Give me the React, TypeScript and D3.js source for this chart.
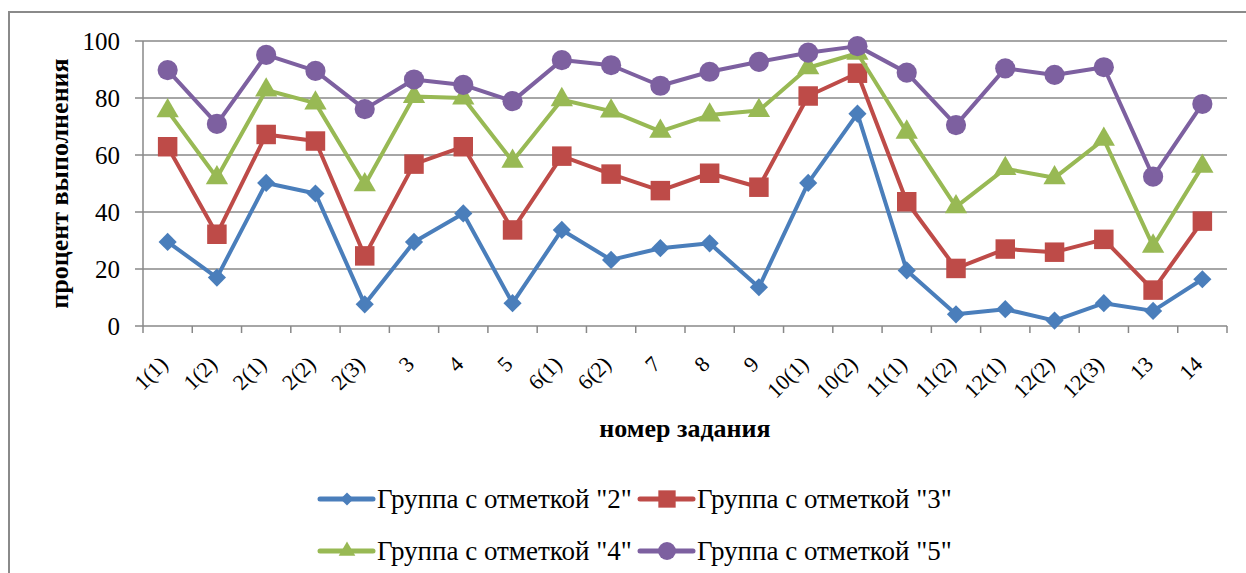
import React, { useEffect, useRef } from "react";
import * as d3 from "d3";

const categories = ["1(1)", "1(2)", "2(1)", "2(2)", "2(3)", "3", "4", "5", "6(1)", "6(2)", "7", "8", "9", "10(1)", "10(2)", "11(1)", "11(2)", "12(1)", "12(2)", "12(3)", "13", "14"];
const group2 = [29.5, 17, 50.2, 46.5, 7.6, 29.5, 39.5, 8, 33.7, 23.2, 27.3, 29, 13.6, 50.2, 74.5, 19.5, 4.1, 5.9, 1.9, 8, 5.3, 16.4];
const group3 = [62.9, 32.2, 67.2, 64.9, 24.6, 56.8, 62.9, 33.7, 59.6, 53.3, 47.5, 53.6, 48.7, 80.7, 88.7, 43.6, 20.2, 27, 25.9, 30.4, 12.6, 36.8];
const group4 = [75.5, 52, 82.8, 78.2, 49.5, 80.5, 80, 57.8, 79.4, 75.4, 68.3, 74, 75.6, 90.6, 95.7, 68, 41.8, 55.2, 52, 65.5, 28, 56];
const group5 = [89.8, 70.9, 95.1, 89.5, 76.1, 86.5, 84.6, 78.9, 93.3, 91.5, 84.3, 89.2, 92.7, 95.9, 98.2, 88.9, 70.5, 90.4, 88.1, 90.8, 52.4, 77.9];
const yTicks = [0, 20, 40, 60, 80, 100];
const seriesNames = ['Группа с отметкой "2"', 'Группа с отметкой "3"', 'Группа с отметкой "4"', 'Группа с отметкой "5"'];

const colors = ["#4a7ebb", "#be4b48", "#98b954", "#7d60a0"];
const symbols = [d3.symbolSquare, d3.symbolSquare, d3.symbolTriangle, d3.symbolCircle];
const rotations = [45, 0, 0, 0];
const symSizes = [165, 380, 215, 320];
const legSizes = [85, 300, 120, 250];

export default function App() {
  const ref = useRef<SVGSVGElement>(null);
  useEffect(() => {
    const svg = d3.select(ref.current);
    svg.selectAll("*").remove();
    const W = 1246, H = 573;
    const left = 143, right = 1227, top = 41, bottom = 326;
    const font = "'Liberation Serif', 'Times New Roman', 'DejaVu Serif', serif";

    svg.append("rect").attr("x", 9).attr("y", 12).attr("width", W + 20).attr("height", H + 20)
      .attr("fill", "white").attr("stroke", "#8a8a8a").attr("stroke-width", 2);

    const x = d3.scaleBand().domain(categories).range([left, right]);
    const y = d3.scaleLinear().domain([0, 100]).range([bottom, top]);

    svg.append("g").selectAll("line").data(yTicks).join("line")
      .attr("x1", left - 8).attr("x2", right).attr("y1", d => y(d)).attr("y2", d => y(d))
      .attr("stroke", "#888").attr("stroke-width", 1.5);
    svg.append("line").attr("x1", left).attr("x2", left).attr("y1", top).attr("y2", bottom)
      .attr("stroke", "#888").attr("stroke-width", 1.5);
    const tickPos = categories.map(c => x(c)!).concat([right]);
    svg.append("g").selectAll("line").data(tickPos).join("line")
      .attr("x1", d => d).attr("x2", d => d).attr("y1", bottom).attr("y2", bottom + 7)
      .attr("stroke", "#888").attr("stroke-width", 1.5);

    svg.append("g").selectAll("text").data(yTicks).join("text")
      .attr("x", left - 23).attr("y", d => y(d)).attr("dy", "0.35em")
      .attr("text-anchor", "end").style("font-family", font).style("font-size", "25px")
      .text(d => d);

    svg.append("g").selectAll("text").data(categories).join("text")
      .attr("transform", d => `translate(${x(d)! + x.bandwidth() / 2 - 4},${bottom + 34}) rotate(-45)`)
      .attr("text-anchor", "end").attr("dy", "0.35em")
      .style("font-family", font).style("font-size", "22px")
      .text(d => d);

    svg.append("text").attr("x", (left + right) / 2).attr("y", 437)
      .attr("text-anchor", "middle").style("font-family", font).style("font-weight", "bold").style("font-size", "26px")
      .text("номер задания");
    svg.append("text").attr("transform", `translate(68,${(top + bottom) / 2}) rotate(-90)`)
      .attr("text-anchor", "middle").style("font-family", font).style("font-weight", "bold").style("font-size", "26px")
      .text("процент выполнения");

    const all = [group2, group3, group4, group5];
    const cx = (i: number) => x(categories[i])! + x.bandwidth() / 2;
    all.forEach((vals, si) => {
      const line = d3.line<number>().x((_, i) => cx(i)).y(d => y(d));
      svg.append("path").datum(vals).attr("d", line).attr("fill", "none")
        .attr("stroke", colors[si]).attr("stroke-width", 4).attr("stroke-linejoin", "round");
      const sym = d3.symbol().type(symbols[si]).size(symSizes[si]);
      svg.append("g").selectAll("path").data(vals).join("path")
        .attr("transform", (d, i) => `translate(${cx(i)},${y(d)}) rotate(${rotations[si]})`)
        .attr("d", sym()).attr("fill", colors[si]);
    });

    const legPos = [[320, 499], [640, 499], [320, 551], [640, 551]];
    seriesNames.forEach((name, si) => {
      const [lx, ly] = legPos[si];
      const g = svg.append("g");
      g.append("line").attr("x1", lx).attr("x2", lx + 53).attr("y1", ly).attr("y2", ly)
        .attr("stroke", colors[si]).attr("stroke-width", 5).attr("stroke-linecap", "round");
      g.append("path").attr("transform", `translate(${lx + 27},${ly}) rotate(${rotations[si]})`)
        .attr("d", d3.symbol().type(symbols[si]).size(legSizes[si])()).attr("fill", colors[si]);
      g.append("text").attr("x", lx + 57).attr("y", ly).attr("dy", "0.35em")
        .style("font-family", font).style("font-size", "27px").text(name);
    });
  }, []);
  return (
    <svg ref={ref} width={1246} height={573}
      style={{ position: "absolute", left: 0, top: 0, background: "white" }} />
  );
}
